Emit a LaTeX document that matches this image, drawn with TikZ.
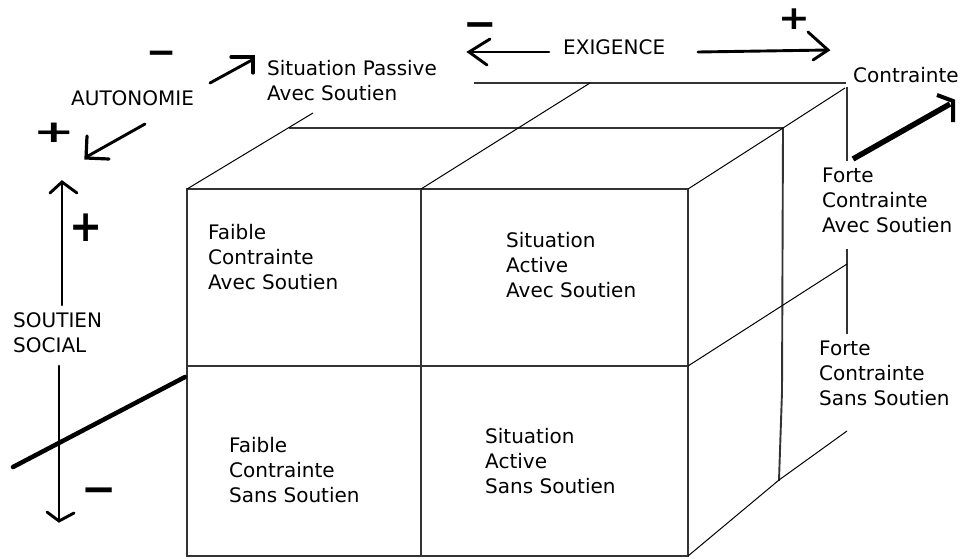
\documentclass[tikz,border=0pt]{standalone}
\usepackage{fontspec}
\usepackage{graphicx}
\setmainfont{DejaVu Sans}
\usetikzlibrary{calc}
\begin{document}
\begin{tikzpicture}[x=1pt,y=-1pt,
  lbl/.style={inner sep=0pt, anchor=west, align=left, font=\fontsize{20}{25}\selectfont},
  sign/.style={inner sep=0pt, font=\bfseries\fontsize{#1}{#1}\selectfont},
  edge/.style={line width=1.9pt, color=black!80, line cap=rect},
  depthline/.style={line width=1pt},
  arr/.style={line width=2.9pt, line cap=round},
  head/.style={line width=3.2pt, line cap=round, line join=miter},
  thick axis/.style={line width=4.5pt, line cap=round}]
\useasboundingbox (0,0) rectangle (961,558);

% ---------- cube : front face ----------
\coordinate (F1) at (187,189);
\coordinate (F2) at (421,189);
\coordinate (F3) at (688,189);
\coordinate (F4) at (187,366);
\coordinate (F5) at (688,366);
\coordinate (F6) at (187,556);
\coordinate (F7) at (421,556);
\coordinate (F8) at (688,556);
\draw[edge] (F1) -- (F3) -- (F8) -- (F6) -- cycle;
\draw[edge] (F2) -- (F7);
\draw[edge] (F4) -- (F5);

% ---------- middle layer ----------
\coordinate (M1) at (290,128);
\coordinate (M2) at (783,128);
\coordinate (M3) at (782,392);
\coordinate (M4) at (779,480);
\draw[edge] (M1) -- (M2);
\draw[edge] (M2) -- (M3) -- (M4);

% ---------- back layer ----------
\coordinate (B1) at (475,83);
\coordinate (B2) at (845,83);
\coordinate (B3) at (847,88);
\coordinate (B4) at (847,160);
\coordinate (B5) at (847,250);
\coordinate (B6) at (847,333);
\draw[edge] (B1) -- (B2);
\draw[edge] (B3) -- (B4);
\draw[edge] (B5) -- (B6);

% ---------- depth edges ----------
\coordinate (D1) at (313,113);
\coordinate (D2) at (590,83);
\coordinate (D3) at (845,88);
\coordinate (D4) at (847,264);
\coordinate (D5) at (847,431);
\draw[depthline] (F1) -- (D1);
\draw[depthline] (F2) -- (D2);
\draw[depthline] (F3) -- (M2) -- (D3);
\draw[depthline] (F5) -- (D4);
\draw[depthline] (F8) -- (M4) -- (D5);

% ---------- cell labels ----------
\node[lbl] (fcas) at (208,257) {Faible\\Contrainte\\Avec Soutien};
\node[lbl] (saas) at (506,265) {Situation\\Active\\Avec Soutien};
\node[lbl] (fcss) at (229,470) {Faible\\Contrainte\\Sans Soutien};
\node[lbl] (sass) at (485,461) {Situation\\Active\\Sans Soutien};
\node[lbl] (Fcas) at (822,200) {Forte\\Contrainte\\Avec Soutien};
\node[lbl] (Fcss) at (819,373) {Forte\\Contrainte\\Sans Soutien};
\node[lbl] (spas) at (267,80.5) {Situation Passive\\Avec Soutien};

% ---------- axis labels ----------
\node[lbl] (auto) at (71,98) {AUTONOMIE};
\node[lbl] (exig) at (563,47) {EXIGENCE};
\node[lbl] (cont) at (853,75) {Contrainte};
\node[lbl] (sout) at (13,332.5) {SOUTIEN\\SOCIAL};

% ---------- signs ----------
\node[sign=31] (p1) at (54.5,133) {\scalebox{1.6}[1]{+}};
\node[sign=44] (p2) at (86.5,228) {\scalebox{0.9}[1]{+}};
\node[sign=33] (p3) at (794,19) {\scalebox{1.15}[1]{+}};
\node[sign=36, anchor=base] (m1) at (161.5,64) {−};
\node[sign=40, anchor=base] (m2) at (480,37) {−};
\node[sign=42, anchor=base] (m3) at (99.5,503.4) {−};

% ---------- AUTONOMIE arrows ----------
\coordinate (a1s) at (210,83);
\coordinate (a1e) at (252,60);
\draw[arr] (a1s) -- (a1e);
\draw[head] ($(a1e)+(-21,-3)$) -- ($(a1e)+(1,-3)$) -- ($(a1e)+(1,13)$);
\coordinate (a2s) at (145,124);
\coordinate (a2e) at (88,156);
\draw[arr] (a2s) -- (a2e);
\draw[head] ($(a2e)+(-1,-20)$) -- ($(a2e)+(-2,2)$) -- ($(a2e)+(21,3)$);

% ---------- SOUTIEN SOCIAL arrows ----------
\coordinate (s1s) at (62,305);
\coordinate (s1e) at (62,182);
\draw[arr] (s1s) -- (s1e);
\draw[arr] ($(s1e)+(-12,11)$) -- (s1e) -- ($(s1e)+(15,11)$);
\coordinate (s2s) at (59,366);
\coordinate (s2e) at (59,521);
\draw[arr] (s2s) -- (s2e);
\draw[arr] ($(s2e)+(-12,-9)$) -- (s2e) -- ($(s2e)+(15,-8)$);

% ---------- EXIGENCE arrows ----------
\coordinate (e1s) at (549,52);
\coordinate (e1e) at (469,52);
\draw[arr] (e1s) -- (e1e);
\draw[arr] ($(e1e)+(21,-13)$) -- (e1e) -- ($(e1e)+(18,13)$);
\coordinate (e2s) at (698,52);
\coordinate (e2e) at (828,50);
\draw[arr] (e2s) -- (e2e);
\draw[arr] ($(e2e)+(-20,-18)$) -- (e2e) -- ($(e2e)+(-15,10)$);

% ---------- Contrainte arrow ----------
\coordinate (c1s) at (853,159);
\coordinate (c1e) at (950,104);
\draw[line width=5.5pt] (c1s) -- (c1e);
\draw[line width=4pt, line join=miter] (937,95) -- (953,101) -- (953,122);

% ---------- oblique axis through SOUTIEN ----------
\coordinate (x1) at (13,467);
\coordinate (x2) at (185,377);
\draw[thick axis] (x1) -- (x2);
\end{tikzpicture}
\end{document}
